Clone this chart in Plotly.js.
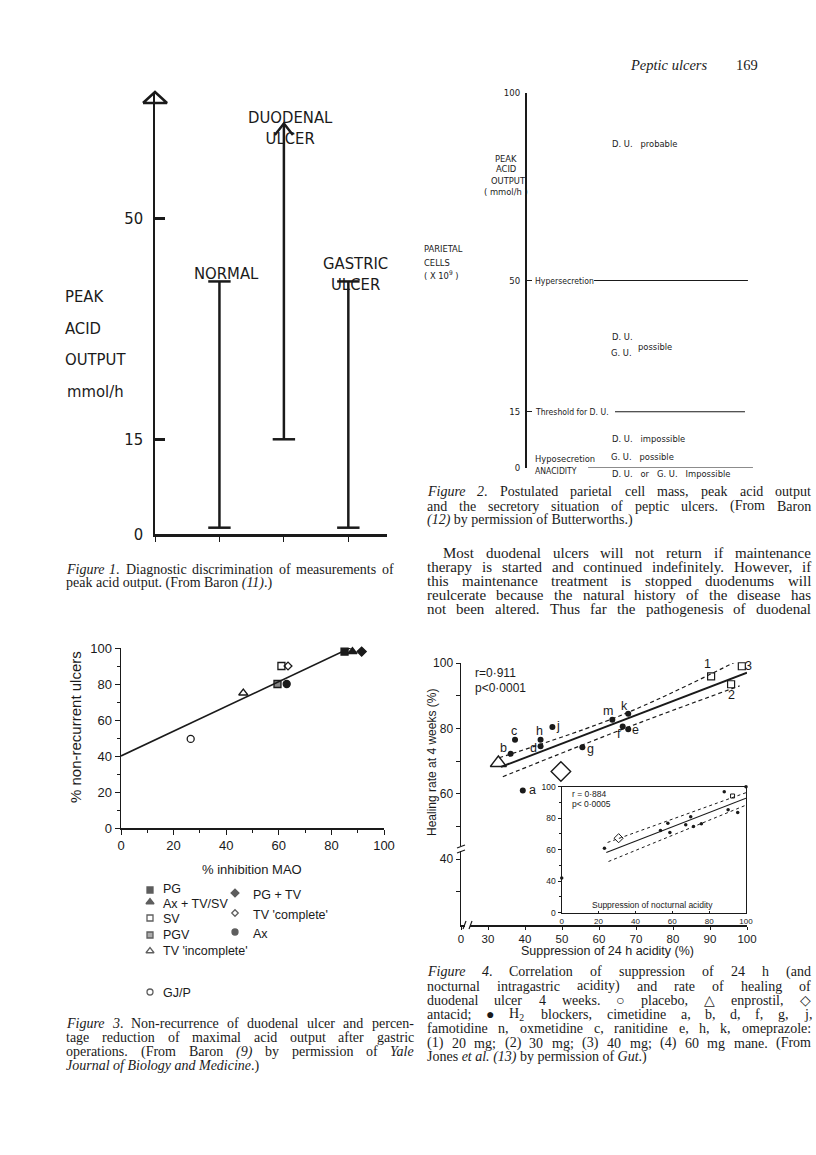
<!DOCTYPE html>
<html>
<head>
<meta charset="utf-8">
<script src="https://cdn.plot.ly/plotly-3.0.1.min.js"></script>
<style>
    body { margin: 0; background: #fff; }
    #page { width: 816px; height: 1155px; }
</style>
</head>
<body>
<div id="page"></div>
<script>
const W = 816
const H = 1155
const ink = '#1a1a1a'
const narrow = 'Liberation Sans Narrow, DejaVu Sans Condensed, Liberation Sans, sans-serif'
const sans = 'Liberation Sans, Arial, sans-serif'
const serif = 'Liberation Serif'

// Figure 1: peak acid output ranges
const fig1Groups = ["NORMAL", "DUODENAL<br>ULCER", "GASTRIC<br>ULCER"]
const fig1Low = [1, 15, 1]
const fig1High = [40, 65, 40]
const fig1Unbounded = [false, true, false]
const fig1Ticks = [0, 15, 50]
const fig1AxisTop = 70

// Figure 2: parietal cells and peak acid output
const cellTicks = [0, 1, 2, 3, 4]
const paoTicks = [0, 15, 50, 100]
const paoLevels = [50, 15, 0]
const paoLevelNames = ["Hypersecretion", "Threshold for D. U.", "ANACIDITY"]

// Figure 3: operations, % inhibition MAO vs % non-recurrent ulcers
const opNames = ["PG", "Ax + TV/SV", "PG + TV", "SV", "TV 'complete'", "PGV", "Ax", "TV 'incomplete'", "GJ/P"]
const opMAO = [85, 88, 91.5, 61, 63.5, 59.5, 63, 46.5, 26.5]
const opNonRecur = [98, 98, 98, 90, 90, 80, 80, 75, 49.5]
const fit3X = [0, 90]
const fit3Y = [40, 102]

// Figure 4: suppression of 24 h acidity vs healing rate
const h2Labels = ["a", "b", "c", "d", "e", "f", "g", "h", "j", "k", "m"]
const h2Supp = [39.4, 36.1, 37.3, 44.2, 67.9, 66.4, 55.5, 44.2, 47.4, 67.9, 63.6]
const h2Heal = [61, 72.2, 76.5, 74.5, 79.7, 80.6, 74.2, 76.5, 80.4, 84.5, 82.6]
const omeLabels = ["1", "2", "3", "4"]
const omeSupp = [90.3, 95.7, 98.6, 96]
const omeHeal = [95.9, 93.5, 99, 100.2]
const otherNames = ["enprostil", "antacid"]
const otherSupp = [32.8, 49.7]
const otherHeal = [69.4, 66.8]
const fit4X = [33.5, 100]
const fit4Y = [68.2, 97]
const upper4X = [33, 66, 98]
const upper4Y = [71, 84, 101]
const lower4X = [34, 67, 98]
const lower4Y = [65.2, 80, 93]

// Figure 4 inset: suppression of nocturnal acidity
const nocSupp = [0, 23.2, 53.6, 57.6, 58.7, 67.3, 70, 71.5, 75.8, 88.2, 90.3, 95.5, 100]
const nocHeal = [42, 61, 72.2, 76.8, 70.9, 75.8, 81, 74.7, 76.4, 96.8, 85.3, 83.6, 100]
const nocAntacid = [30.9, 67.3]
const nocOme = [92.7, 94.1]
const fitNocX = [24.2, 100]
const fitNocY = [58.2, 92.7]
const upperNocX = [24.9, 100]
const upperNocY = [64.6, 96.2]
const lowerNocX = [25.4, 100]
const lowerNocY = [52.5, 88.3]

function domX(a, b) { return [a / W, b / W] }
function domY(top, bottom) { return [1 - bottom / H, 1 - top / H] }

let annotations = []
function addText(text, x, y, size, family, align, extra) {
    let a = {
        text: text, x: x / W, y: 1 - y / H, xref: 'paper', yref: 'paper',
        showarrow: false, xanchor: align || 'left', yanchor: 'middle', borderpad: 0,
        font: { family: family, size: size, color: ink }
    }
    annotations.push(Object.assign(a, extra || {}))
}

// justified text: every word measured on a canvas, spaces stretched to the column
const ctx = document.createElement('canvas').getContext('2d')
function wordWidth(word, size) {
    ctx.font = (word.indexOf('<i>') >= 0 ? 'italic ' : '') + size + 'px "' + serif + '"'
    return ctx.measureText(word.replace(/<[^>]+>/g, '')).width
}

function addParagraph(lines, left, right, top, step, size, indent) {
    lines.forEach((line, i) => {
        let y = top + i * step
        let x0 = left + (i === 0 ? (indent || 0) : 0)
        if (i === lines.length - 1 && !line.endsWith('~')) {
            addText(line, x0, y, size, serif)
            return
        }
        let words = line.replace(/~$/, '').split(' ')
        let widths = words.map(w => wordWidth(w, size))
        let gap = (right - x0 - widths.reduce((s, v) => s + v, 0)) / (words.length - 1)
        let x = x0
        words.forEach((w, k) => {
            addText(w, x, y, size, serif)
            x += widths[k] + gap
        })
    })
}

function axis(opts) {
    return Object.assign({
        showgrid: false, zeroline: false, linecolor: ink, tickcolor: ink,
        automargin: false, fixedrange: true
    }, opts)
}

let traces = []
function addTrace(t) {
    traces.push(Object.assign({ hoverinfo: 'skip', showlegend: false, cliponaxis: false }, t))
}

// ---- figure 1
fig1Groups.forEach((name, i) => {
    let xPos = i + 1
    addTrace({ x: [xPos, xPos], y: [fig1Low[i], fig1High[i]], xaxis: 'x', yaxis: 'y', mode: 'lines',
        line: { color: ink, width: 2.5 } })
    let caps = fig1Unbounded[i] ? [fig1Low[i]] : [fig1Low[i], fig1High[i]]
    addTrace({ x: caps.map(() => xPos), y: caps, xaxis: 'x', yaxis: 'y', mode: 'markers',
        marker: { symbol: 'line-ew-open', size: 16, color: ink, line: { color: ink, width: 2.5 } } })
    if (fig1Unbounded[i]) {
        let top = fig1High[i]
        addTrace({ x: [xPos - 0.14, xPos, xPos + 0.14], y: [top - 1.8, top, top - 1.8], xaxis: 'x', yaxis: 'y',
            mode: 'lines', line: { color: ink, width: 2.5 } })
    }
    annotations.push({ text: name, x: xPos, xref: 'x', y: 1 - [262, 106, 252][i] / H, yref: 'paper',
        xshift: 7, showarrow: false, font: { family: narrow, size: 16.5, color: ink } })
})
// open arrow head on top of the axis (drawn on the page axes)
addTrace({ x: [143, 155, 167, 143], y: [103, 92, 103, 103], xaxis: 'x8', yaxis: 'y8', mode: 'lines',
    line: { color: ink, width: 2.5 } })

addText('PEAK', 64, 297, 16.5, narrow)
addText('ACID', 64, 328, 16.5, narrow)
addText('OUTPUT', 64, 359, 16.5, narrow)
addText('mmol/h', 66, 392, 16.5, narrow)
addParagraph([
    '<i>Figure</i> <i>1</i>. Diagnostic discrimination of measurements of',
    'peak acid output. (From Baron <i>(11)</i>.)'
], 65, 393, 569, 14, 14)

// ---- figure 2
let levelSpan = [[0.294, 0.969], [0.386, 0.956], [0.268, 0.991]]
paoLevels.forEach((lvl, i) => {
    addTrace({ x: levelSpan[i], y: [lvl, lvl], xaxis: 'x4', yaxis: 'y4', mode: 'lines',
        line: { color: ink, width: 1.2 } })
    annotations.push({ text: paoLevelNames[i], x: 0.027, y: lvl, xref: 'x4', yref: 'y4', xanchor: 'left',
        yshift: lvl === 0 ? -3 : 0, showarrow: false, font: { family: narrow, size: 8.6, color: ink } })
})
addText('PARIETAL', 423, 249, 9.3, narrow)
addText('CELLS', 423, 262, 9.3, narrow)
addText('( X 10<sup>9</sup> )', 423, 275, 9.3, narrow)
addText('PEAK', 506, 158, 9.3, narrow, 'center')
addText('ACID', 506, 169, 9.3, narrow, 'center')
addText('OUTPUT', 508, 180, 9.3, narrow, 'center')
addText('( mmol/h )', 506, 191, 9.3, narrow, 'center')
addText('D. U.   probable', 611, 143, 9.3, narrow)
addText('D. U.', 611, 336, 9.3, narrow)
addText('G. U.', 610, 352, 9.3, narrow)
addText('possible', 637, 346, 9.3, narrow)
addText('Hyposecretion', 534, 458, 9.3, narrow)
addText('D. U.   impossible', 611, 439, 9.3, narrow)
addText('G. U.   possible', 610, 456, 9.3, narrow)
addText('D. U.   or   G. U.   Impossible', 611, 473, 9.3, narrow)

addText('<i>Peptic ulcers</i>', 629, 65, 14.5, serif)
addText('169', 735, 65, 14.5, serif)

addParagraph([
    '<i>Figure</i> <i>2</i>. Postulated parietal cell mass, peak acid output',
    'and the secretory situation of peptic ulcers. (From Baron',
    '<i>(12)</i> by permission of Butterworths.)'
], 426, 810, 492, 14, 14)

addParagraph([
    'Most duodenal ulcers will not return if maintenance',
    'therapy is started and continued indefinitely. However, if',
    'this maintenance treatment is stopped duodenums will',
    'reulcerate because the natural history of the disease has',
    'not been altered. Thus far the pathogenesis of duodenal~'
], 426, 810, 553, 14, 15, 16)

// ---- figure 3
let opSymbols = ['square', 'triangle-up', 'diamond', 'square-open', 'diamond-open', 'square', 'circle', 'triangle-up-open', 'circle-open']
let opSizes = [7, 8, 7, 7, 6, 7, 7, 8, 7]
let opFill = [ink, ink, ink, ink, ink, '#888', ink, ink, ink]
opNames.forEach((name, i) => {
    addTrace({ x: [opMAO[i]], y: [opNonRecur[i]], xaxis: 'x5', yaxis: 'y5', mode: 'markers', name: name,
        marker: { symbol: opSymbols[i], size: opSizes[i], color: opFill[i], line: { color: ink, width: 1.3 } } })
})
addTrace({ x: fit3X, y: fit3Y, xaxis: 'x5', yaxis: 'y5', mode: 'lines', line: { color: ink, width: 1.6 } })

// legend keys placed on the page axes
let keyX = [150, 150, 235, 150, 235, 150, 235, 150, 150]
let keyY = [890, 902, 893, 918, 913, 935, 932, 951, 992]
let keyTextY = [889, 904, 895, 919, 915, 935, 934, 951, 993]
addTrace({ x: keyX, y: keyY, xaxis: 'x8', yaxis: 'y8', mode: 'markers',
    marker: { symbol: opSymbols, size: opSizes.map(s => s - 1), color: opFill, line: { color: ink, width: 1.3 } } })
opNames.forEach((name, i) => addText(name, keyX[i] + (keyX[i] > 200 ? 17 : 12), keyTextY[i], 12.5, sans))

addText('% inhibition MAO', 252, 869, 13, sans, 'center')
addText('% non-recurrent ulcers', 75, 727, 15, sans, 'center', { textangle: -90 })

addParagraph([
    '<i>Figure</i> <i>3</i>. Non-recurrence of duodenal ulcer and percen-',
    'tage reduction of maximal acid output after gastric',
    'operations. (From Baron <i>(9)</i> by permission of <i>Yale</i>',
    '<i>Journal of Biology and Medicine</i>.)'
], 65, 413, 1023, 14.4, 14)

// ---- figure 4
addTrace({ x: fit4X, y: fit4Y, xaxis: 'x6', yaxis: 'y6', mode: 'lines', line: { color: ink, width: 2 } })
addTrace({ x: upper4X, y: upper4Y, xaxis: 'x6', yaxis: 'y6', mode: 'lines', line: { color: ink, width: 1.2, dash: '4px,3px', shape: 'spline' } })
addTrace({ x: lower4X, y: lower4Y, xaxis: 'x6', yaxis: 'y6', mode: 'lines', line: { color: ink, width: 1.2, dash: '4px,3px', shape: 'spline' } })
addTrace({ x: h2Supp, y: h2Heal, xaxis: 'x6', yaxis: 'y6', mode: 'markers', marker: { symbol: 'circle', size: 6, color: ink } })
addTrace({ x: omeSupp, y: omeHeal, xaxis: 'x6', yaxis: 'y6', mode: 'markers', marker: { symbol: 'square-open', size: 7, color: ink, line: { width: 1.2 } } })
addTrace({ x: [otherSupp[0]], y: [otherHeal[0]], xaxis: 'x6', yaxis: 'y6', mode: 'markers', name: otherNames[0], marker: { symbol: 'triangle-up-open', size: 14, color: ink, line: { width: 1.4 } } })
addTrace({ x: [otherSupp[1]], y: [otherHeal[1]], xaxis: 'x6', yaxis: 'y6', mode: 'markers', name: otherNames[1], marker: { symbol: 'diamond-open', size: 15, color: ink, line: { width: 1.4 } } })

let h2Shift = { a: [10, 0], b: [-7, 6], c: [-1, 9], d: [-7, -2], e: [7, -1], f: [-4, -8], g: [8, -2], h: [-1, 9], j: [6, 1], k: [-4, 8], m: [-4, 9] }
h2Labels.forEach((lab, i) => {
    annotations.push({ text: lab, x: h2Supp[i], y: h2Heal[i], xref: 'x6', yref: 'y6', showarrow: false,
        xshift: h2Shift[lab][0], yshift: h2Shift[lab][1], font: { family: sans, size: 12.5, color: ink } })
})
let omeShift = [[-4, 12], [0, -11], [7, 0], [1, 10]]
omeLabels.forEach((lab, i) => {
    annotations.push({ text: lab, x: omeSupp[i], y: omeHeal[i], xref: 'x6', yref: 'y6', showarrow: false,
        xshift: omeShift[i][0], yshift: omeShift[i][1], font: { family: sans, size: 12.5, color: ink } })
})
addText('r=0·911', 474, 673, 12, sans)
addText('p<0·0001', 474, 688, 12, sans)
addText('Healing rate at 4 weeks (%)', 432, 763, 12, sans, 'center', { textangle: -90 })
addText('Suppression of 24 h acidity (%)', 607, 951, 12.5, sans, 'center')

// inset
addTrace({ x: fitNocX, y: fitNocY, xaxis: 'x7', yaxis: 'y7', mode: 'lines', line: { color: ink, width: 1.2 } })
addTrace({ x: upperNocX, y: upperNocY, xaxis: 'x7', yaxis: 'y7', mode: 'lines', line: { color: ink, width: 1, dash: '3px,3px' } })
addTrace({ x: lowerNocX, y: lowerNocY, xaxis: 'x7', yaxis: 'y7', mode: 'lines', line: { color: ink, width: 1, dash: '3px,3px' } })
addTrace({ x: nocSupp, y: nocHeal, xaxis: 'x7', yaxis: 'y7', mode: 'markers', marker: { symbol: 'circle', size: 3.5, color: ink } })
addTrace({ x: [nocAntacid[0]], y: [nocAntacid[1]], xaxis: 'x7', yaxis: 'y7', mode: 'markers', marker: { symbol: 'diamond-open', size: 7, color: ink, line: { width: 1 } } })
addTrace({ x: [nocOme[0]], y: [nocOme[1]], xaxis: 'x7', yaxis: 'y7', mode: 'markers', marker: { symbol: 'square-open', size: 4, color: ink, line: { width: 1 } } })
addText('r = 0·884', 571, 794, 8.5, sans)
addText('p< 0·0005', 571, 804, 8.5, sans)
addText('Suppression of nocturnal acidity', 652, 905, 8.5, sans, 'center')

addParagraph([
    '<i>Figure</i> <i>4</i>. Correlation of suppression of 24 h (and',
    'nocturnal intragastric acidity) and rate of healing of',
    'duodenal ulcer 4 weeks. ○ placebo, △ enprostil, ◇',
    'antacid; ● H<sub>2</sub> blockers, cimetidine a, b, d, f, g, j,',
    'famotidine n, oxmetidine c, ranitidine e, h, k, omeprazole:',
    '(1) 20 mg; (2) 30 mg; (3) 40 mg; (4) 60 mg mane. (From',
    'Jones <i>et</i> <i>al.</i> <i>(13)</i> by permission of <i>Gut</i>.)'
], 426, 810, 972, 14.2, 14)

// axis breaks of figure 4: a white gap with two slanted strokes
let breaks = [
    { x0: 465, y0: 925, horizontal: true },
    { x0: 461, y0: 851, horizontal: false }
]
let shapes = []
breaks.forEach(b => {
    let gap = b.horizontal
        ? { x0: b.x0, x1: b.x0 + 5, y0: b.y0 - 2, y1: b.y0 + 2 }
        : { x0: b.x0 - 2, x1: b.x0 + 2, y0: b.y0 - 5, y1: b.y0 }
    shapes.push({ type: 'rect', xref: 'paper', yref: 'paper', x0: gap.x0 / W, x1: gap.x1 / W,
        y0: 1 - gap.y1 / H, y1: 1 - gap.y0 / H, fillcolor: '#fff', line: { width: 0 } })
    let strokes = b.horizontal
        ? [[b.x0 - 2, b.y0 + 4, b.x0 + 1, b.y0 - 4], [b.x0 + 4, b.y0 + 4, b.x0 + 7, b.y0 - 4]]
        : [[b.x0 - 4, b.y0 + 2, b.x0 + 4, b.y0 - 1], [b.x0 - 4, b.y0 - 3, b.x0 + 4, b.y0 - 6]]
    strokes.forEach(s => shapes.push({ type: 'line', xref: 'paper', yref: 'paper',
        x0: s[0] / W, y0: 1 - s[1] / H, x1: s[2] / W, y1: 1 - s[3] / H, line: { color: ink, width: 1.2 } }))
})

let layout = {
    width: W,
    height: H,
    margin: { l: 0, r: 0, t: 0, b: 0 },
    paper_bgcolor: '#fff',
    plot_bgcolor: 'rgba(0,0,0,0)',
    showlegend: false,
    annotations: annotations,
    shapes: shapes,
    // figure 1
    xaxis: axis({ domain: domX(155, 387), range: [0, 3.6], showline: true, linewidth: 2.5, showticklabels: false, anchor: 'y' }),
    yaxis: axis({ domain: domY(92, 534), range: [0, fig1AxisTop], showline: true, linewidth: 2.5, anchor: 'x',
        ticks: 'inside', ticklen: 10, tickwidth: 2.5, tickvals: fig1Ticks, ticklabelstandoff: 6,
        tickfont: { family: narrow, size: 16.5, color: ink } }),
    // figure 2
    xaxis3: axis({ domain: domX(468, 470), range: [0, 1], visible: false, anchor: 'y3' }),
    yaxis3: axis({ domain: domY(126, 468), range: [0, 4], showline: true, linewidth: 1.5, anchor: 'x3',
        ticks: 'inside', ticklen: 5, tickvals: cellTicks, ticklabelstandoff: 3,
        tickfont: { family: narrow, size: 9.5, color: ink } }),
    xaxis4: axis({ domain: domX(527, 755), range: [0, 1], visible: false, anchor: 'y4' }),
    yaxis4: axis({ domain: domY(93, 468), range: [0, 100], showline: true, linewidth: 2, anchor: 'x4',
        ticks: 'inside', ticklen: 5, tickvals: paoTicks, ticklabelstandoff: 3,
        tickfont: { family: narrow, size: 9.5, color: ink } }),
    // figure 3
    xaxis5: axis({ domain: domX(121, 384), range: [0, 100], showline: true, linewidth: 1.5, anchor: 'y5',
        ticks: 'outside', ticklen: 5, tickvals: [0, 20, 40, 60, 80, 100],
        minor: { dtick: 10, ticks: 'outside', ticklen: 3, tickcolor: ink },
        tickfont: { family: sans, size: 13, color: ink } }),
    yaxis5: axis({ domain: domY(648, 828), range: [0, 100], showline: true, linewidth: 1.5, anchor: 'x5',
        ticks: 'outside', ticklen: 5, tickvals: [0, 20, 40, 60, 80, 100],
        minor: { dtick: 10, ticks: 'outside', ticklen: 3, tickcolor: ink },
        tickfont: { family: sans, size: 13, color: ink } }),
    // figure 4
    xaxis6: axis({ domain: domX(461, 747), range: [22.7, 100], showline: true, linewidth: 1.5, anchor: 'y6',
        ticks: 'outside', ticklen: 3, tickvals: [22.7, 30, 40, 50, 60, 70, 80, 90, 100],
        ticktext: ['0', '30', '40', '50', '60', '70', '80', '90', '100'],
        tickfont: { family: sans, size: 11.5, color: ink } }),
    yaxis6: axis({ domain: domY(663, 925), range: [19.8, 100], showline: true, linewidth: 1.5, anchor: 'x6',
        ticks: 'outside', ticklen: 4, tickvals: [40, 60, 80, 100],
        minor: { tickvals: [30, 50, 70, 90], ticks: 'outside', ticklen: 4, tickcolor: ink },
        tickfont: { family: sans, size: 12, color: ink } }),
    xaxis7: axis({ domain: domX(561.7, 746), range: [0, 100], showline: true, mirror: true, linewidth: 1.2, anchor: 'y7',
        ticks: 'inside', ticklen: 2, tickvals: [0, 20, 40, 60, 80, 100],
        tickfont: { family: sans, size: 8, color: ink } }),
    yaxis7: axis({ domain: domY(786.7, 912.7), range: [20, 100], showline: true, mirror: true, linewidth: 1.2, anchor: 'x7',
        ticks: 'outside', ticklen: 3, tickvals: [20, 40, 60, 80, 100], ticktext: ['0', '40', '60', '80', '100'],
        minor: { tickvals: [30, 50, 70, 90], ticks: 'outside', ticklen: 2, tickcolor: ink },
        tickfont: { family: sans, size: 8.5, color: ink } }),
    // whole page, for the axis arrow and legend keys
    xaxis8: axis({ domain: [0, 1], range: [0, W], visible: false, anchor: 'y8' }),
    yaxis8: axis({ domain: [0, 1], range: [H, 0], visible: false, anchor: 'x8' })
}

Plotly.newPlot('page', traces, layout, { staticPlot: true, displayModeBar: false })
</script>
</body>
</html>
